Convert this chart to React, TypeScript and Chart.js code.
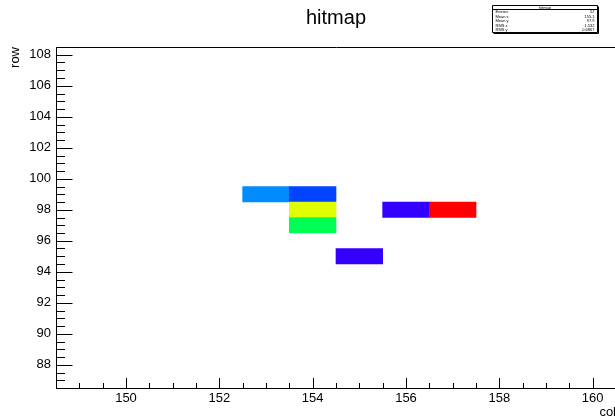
import React, { useEffect, useRef } from 'react';
import { Chart, registerables } from 'chart.js';

Chart.register(...registerables);

// ---- data ----
const TITLE = 'hitmap';
const X_TITLE = 'col';
const Y_TITLE = 'row';
const cols = [153, 154, 154, 154, 155, 156, 157];
const rows = [99, 99, 98, 97, 95, 98, 98];
const hits = [4, 3, 14, 9, 1, 1, 20];
const xTickValues = [150, 152, 154, 156, 158, 160];
const yTickValues = [88, 90, 92, 94, 96, 98, 100, 102, 104, 106, 108];
const X_MIN = 148.5;
const X_MAX = 160.5;
const Y_MIN = 86.5;
const Y_MAX = 108.5;
const MAJOR_STEP = 2;
const MINOR_STEP = 0.5;
const N_CONTOURS = 20;
const N_PALETTE = 50;

const FONT = "'Liberation Sans', Arial, Helvetica, sans-serif";

// ROOT "pretty" palette (HLS, violet -> red)
function hlsValue(h: number): number {
  let hh = h;
  if (hh > 360) hh -= 360;
  if (hh < 0) hh += 360;
  if (hh < 60) return hh / 60;
  if (hh < 180) return 1;
  if (hh < 240) return (240 - hh) / 60;
  return 0;
}
function paletteColor(idx: number): string {
  const hue = 280 - (idx + 1) * (280 / N_PALETTE);
  const r = Math.round(hlsValue(hue + 120) * 255);
  const g = Math.round(hlsValue(hue) * 255);
  const b = Math.round(hlsValue(hue - 120) * 255);
  return `rgb(${r},${g},${b})`;
}
function colorFor(z: number, zmax: number): string {
  const level = Math.min(N_CONTOURS - 1, Math.floor((z / zmax) * N_CONTOURS));
  const idx = Math.floor(((level + 0.99) * N_PALETTE) / N_CONTOURS);
  return paletteColor(idx);
}

function fmt(v: number): string {
  return String(parseFloat(v.toPrecision(4)));
}

const rootFrame = {
  id: 'rootFrame',
  afterDraw(chart: any) {
    const { ctx, chartArea: a, scales } = chart;
    const x = scales.x;
    const y = scales.y;
    ctx.save();
    ctx.strokeStyle = '#000';
    ctx.lineWidth = 1;
    const L = Math.round(a.left) + 0.5;
    const T = Math.round(a.top) + 0.5;
    const B = Math.round(a.bottom) + 0.5;
    const R = Math.round(a.right) + 0.5;
    ctx.beginPath();
    ctx.moveTo(L, T);
    ctx.lineTo(R, T);
    ctx.lineTo(R, B);
    ctx.lineTo(L, B);
    ctx.closePath();
    ctx.stroke();

    ctx.beginPath();
    const ny = Math.round((Y_MAX - Y_MIN) / MINOR_STEP);
    for (let k = 0; k <= ny; k++) {
      const v = Y_MIN + k * MINOR_STEP;
      const major = Math.abs(v / MAJOR_STEP - Math.round(v / MAJOR_STEP)) < 1e-6;
      const py = Math.round(y.getPixelForValue(v)) + 0.5;
      ctx.moveTo(L, py);
      ctx.lineTo(L + (major ? 16 : 8.5), py);
    }
    const nx = Math.round((X_MAX - X_MIN) / MINOR_STEP);
    for (let k = 0; k <= nx; k++) {
      const v = X_MIN + k * MINOR_STEP;
      const major = Math.abs(v / MAJOR_STEP - Math.round(v / MAJOR_STEP)) < 1e-6;
      const px = Math.round(x.getPixelForValue(v)) + 0.5;
      ctx.moveTo(px, B);
      ctx.lineTo(px, B - (major ? 10.5 : 5.5));
    }
    ctx.stroke();

    // statistics box
    let n = 0, sx = 0, sy = 0, sxx = 0, syy = 0;
    hits.forEach((w, i) => {
      n += w; sx += w * cols[i]; sy += w * rows[i];
      sxx += w * cols[i] * cols[i]; syy += w * rows[i] * rows[i];
    });
    const mx = sx / n, my = sy / n;
    const rx = Math.sqrt(Math.max(0, sxx / n - mx * mx));
    const ry = Math.sqrt(Math.max(0, syy / n - my * my));
    const statRows: [string, string][] = [
      ['Entries', String(n)],
      ['Mean x', fmt(mx)],
      ['Mean y', fmt(my)],
      ['RMS x', fmt(rx)],
      ['RMS y', fmt(ry)],
    ];
    const bx0 = 492.5, bx1 = 597.5, by0 = 5.5, by1 = 32.5;
    ctx.fillStyle = '#fff';
    ctx.fillRect(bx0, by0, bx1 - bx0, by1 - by0);
    ctx.beginPath();
    ctx.rect(bx0, by0, bx1 - bx0, by1 - by0);
    ctx.moveTo(bx1 + 1, by0 + 1);
    ctx.lineTo(bx1 + 1, by1 + 1);
    ctx.lineTo(bx0 + 1, by1 + 1);
    ctx.moveTo(bx0, 9.5);
    ctx.lineTo(bx1, 9.5);
    ctx.stroke();
    ctx.fillStyle = '#000';
    ctx.font = `4px ${FONT}`;
    ctx.textBaseline = 'middle';
    ctx.textAlign = 'center';
    ctx.fillText(TITLE, (bx0 + bx1) / 2, 7.5);
    const rowH = (by1 - 9.5) / statRows.length;
    statRows.forEach(([k, v], i) => {
      const cy = 9.5 + rowH * (i + 0.5);
      ctx.textAlign = 'left';
      ctx.fillText(k, bx0 + 3, cy);
      ctx.textAlign = 'right';
      ctx.fillText(v, bx1 - 3, cy);
    });
    ctx.restore();
  },
};

export default function App() {
  const ref = useRef<HTMLCanvasElement>(null);
  useEffect(() => {
    if (!ref.current) return;
    const zmax = Math.max(...hits);
    const chart = new Chart(ref.current, {
      type: 'bar',
      data: {
        datasets: [
          {
            label: TITLE,
            data: cols.map((c, i) => ({ x: [c - 0.5, c + 0.5], y: rows[i] })) as any,
            backgroundColor: hits.map((h) => colorFor(h, zmax)),
            borderWidth: 0,
            barPercentage: 1,
            categoryPercentage: 1,
          },
        ],
      },
      options: {
        indexAxis: 'y',
        responsive: false,
        animation: false,
        devicePixelRatio: 1,
        layout: { padding: { left: 0, right: 24, top: 0, bottom: 0 } },
        plugins: {
          legend: { display: false },
          tooltip: { enabled: false },
          title: {
            display: true,
            text: TITLE,
            fullSize: false,
            color: '#000',
            font: { family: FONT, size: 20, weight: 'normal' },
            padding: { top: 6, bottom: 17 },
          },
        },
        scales: {
          x: {
            type: 'linear',
            position: 'bottom',
            min: X_MIN,
            max: X_MAX,
            offset: false,
            grid: { display: false, drawTicks: false, offset: false },
            border: { display: false },
            afterBuildTicks: (s: any) => {
              s.ticks = xTickValues.map((v) => ({ value: v }));
            },
            ticks: {
              color: '#000',
              font: { family: FONT, size: 13 },
              padding: 3,
              maxRotation: 0,
              autoSkip: false,
            },
            title: {
              display: true,
              text: X_TITLE,
              align: 'end',
              color: '#000',
              font: { family: FONT, size: 13 },
              padding: 0,
            },
            afterFit: (s: any) => { s.height = 32; },
          },
          y: {
            type: 'linear',
            position: 'left',
            min: Y_MIN,
            max: Y_MAX,
            offset: false,
            grid: { display: false, drawTicks: false, offset: false },
            border: { display: false },
            afterBuildTicks: (s: any) => {
              s.ticks = yTickValues.map((v) => ({ value: v }));
            },
            ticks: {
              color: '#000',
              font: { family: FONT, size: 13 },
              padding: 5,
              autoSkip: false,
            },
            title: {
              display: true,
              text: Y_TITLE,
              align: 'end',
              color: '#000',
              font: { family: FONT, size: 13 },
              padding: { top: 8, bottom: 0 },
            },
            afterFit: (s: any) => { s.width = 56; },
          },
        },
      } as any,
      plugins: [rootFrame],
    });
    return () => chart.destroy();
  }, []);

  return (
    <div
      style={{
        position: 'fixed',
        left: 0,
        top: 0,
        width: 615,
        height: 420,
        overflow: 'hidden',
        background: '#fff',
      }}
    >
      <canvas ref={ref} width={640} height={420} style={{ display: 'block' }} />
    </div>
  );
}
